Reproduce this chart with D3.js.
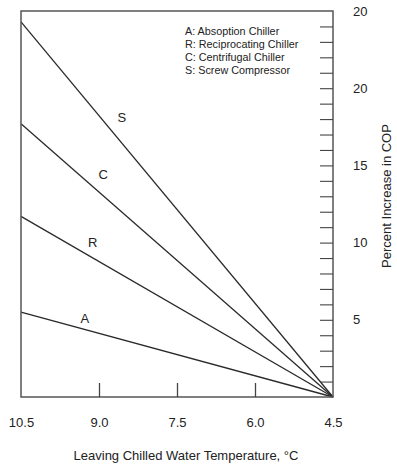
<!DOCTYPE html>
<html>
<head>
<meta charset="utf-8">
<script src="https://cdn.jsdelivr.net/npm/d3@7"></script>
<style>
  body { margin: 0; background: #fff; }
  svg { font-family: "Liberation Sans", Arial, sans-serif; }
</style>
</head>
<body>
<svg id="chart" width="397" height="473"></svg>
<script>
// chiller types, % increase in COP at 10.5 °C (all reach 0 at 4.5 °C)
var seriesKeys = ["A", "R", "C", "S"];
var seriesNames = ["Absoption Chiller", "Reciprocating Chiller", "Centrifugal Chiller", "Screw Compressor"];
var tempPoints = [10.5, 4.5];
var valuesA = [5.5, 0];
var valuesR = [11.7, 0];
var valuesC = [17.7, 0];
var valuesS = [24.3, 0];
// where the letter labels sit (temperature, percent)
var labelTemp = [9.27, 9.12, 8.92, 8.56];
var labelValue = [5.1, 10.0, 14.4, 18.1];

var xTicks = [10.5, 9.0, 7.5, 6.0, 4.5];
var xTickLabels = ["10.5", "9.0", "7.5", "6.0", "4.5"];
var yTicks = [5, 10, 15, 20, 25];
var yTickLabels = ["5", "10", "15", "20", "20"];

var margin = {left: 21, top: 11, right: 64, bottom: 76};
var width = 397, height = 473;

var svg = d3.select("#chart");

var x = d3.scaleLinear().domain([10.5, 4.5]).range([margin.left, width - margin.right]);
var y = d3.scaleLinear().domain([0, 25]).range([height - margin.bottom, margin.top]);

var allValues = [valuesA, valuesR, valuesC, valuesS];
var series = seriesKeys.map(function(k, i) {
  return {key: k, pts: tempPoints.map(function(t, j) { return [t, allValues[i][j]]; })};
});

var line = d3.line().x(function(d) { return x(d[0]); }).y(function(d) { return y(d[1]); });

svg.selectAll("path.series")
  .data(series)
  .enter().append("path")
  .attr("class", "series")
  .attr("d", function(d) { return line(d.pts); })
  .attr("fill", "none")
  .attr("stroke", "#2a2a2a")
  .attr("stroke-width", 1.3);

// frame
svg.append("rect")
  .attr("x", x(10.5)).attr("y", y(25))
  .attr("width", x(4.5) - x(10.5)).attr("height", y(0) - y(25))
  .attr("fill", "none").attr("stroke", "#555").attr("stroke-width", 1.5);

// bottom axis, ticks inside
var xAxis = d3.axisBottom(x)
  .tickValues(xTicks)
  .tickFormat(function(d, i) { return xTickLabels[i]; })
  .tickSize(-14)
  .tickPadding(21);
var gx = svg.append("g")
  .attr("transform", "translate(0," + y(0) + ")")
  .call(xAxis);
gx.select(".domain").remove();
gx.selectAll(".tick line").attr("stroke", "#444").attr("stroke-width", 1.3)
  .filter(function(d) { return d === 10.5 || d === 4.5; }).remove();
gx.selectAll(".tick text").attr("font-size", 13).attr("fill", "#222")
  .attr("font-family", "Liberation Sans, Arial, sans-serif");

// right axis: minor ticks every 1 %
var yMinor = d3.axisRight(y)
  .tickValues(d3.range(1, 25))
  .tickFormat("")
  .tickSize(-13);
var gyMinor = svg.append("g")
  .attr("transform", "translate(" + x(4.5) + ",0)")
  .call(yMinor);
gyMinor.select(".domain").remove();
gyMinor.selectAll(".tick line").attr("stroke", "#444").attr("stroke-width", 1.1);

var yAxis = d3.axisRight(y)
  .tickValues(yTicks)
  .tickFormat(function(d, i) { return yTickLabels[i]; })
  .tickSize(0)
  .tickPadding(20);
var gy = svg.append("g")
  .attr("transform", "translate(" + x(4.5) + ",0)")
  .call(yAxis);
gy.select(".domain").remove();
gy.selectAll(".tick text").attr("font-size", 13).attr("fill", "#222")
  .attr("font-family", "Liberation Sans, Arial, sans-serif");

// series letters
svg.selectAll("text.lab")
  .data(seriesKeys)
  .enter().append("text")
  .attr("class", "lab")
  .attr("x", function(d, i) { return x(labelTemp[i]); })
  .attr("y", function(d, i) { return y(labelValue[i]); })
  .attr("dy", "0.35em")
  .attr("text-anchor", "middle")
  .attr("font-size", 13)
  .attr("fill", "#222")
  .text(function(d) { return d; });

// legend
svg.selectAll("text.leg")
  .data(seriesKeys)
  .enter().append("text")
  .attr("class", "leg")
  .attr("x", 185)
  .attr("y", function(d, i) { return 35 + i * 13; })
  .attr("font-size", 10.8)
  .attr("fill", "#222")
  .text(function(d, i) { return d + ": " + seriesNames[i]; });

// axis titles
svg.append("text")
  .attr("x", 186).attr("y", 460)
  .attr("text-anchor", "middle")
  .attr("font-size", 13).attr("fill", "#222")
  .text("Leaving Chilled Water Temperature, °C");

svg.append("text")
  .attr("transform", "translate(391,196) rotate(-90)")
  .attr("text-anchor", "middle")
  .attr("font-size", 13).attr("fill", "#222")
  .text("Percent Increase in COP");
</script>
</body>
</html>
